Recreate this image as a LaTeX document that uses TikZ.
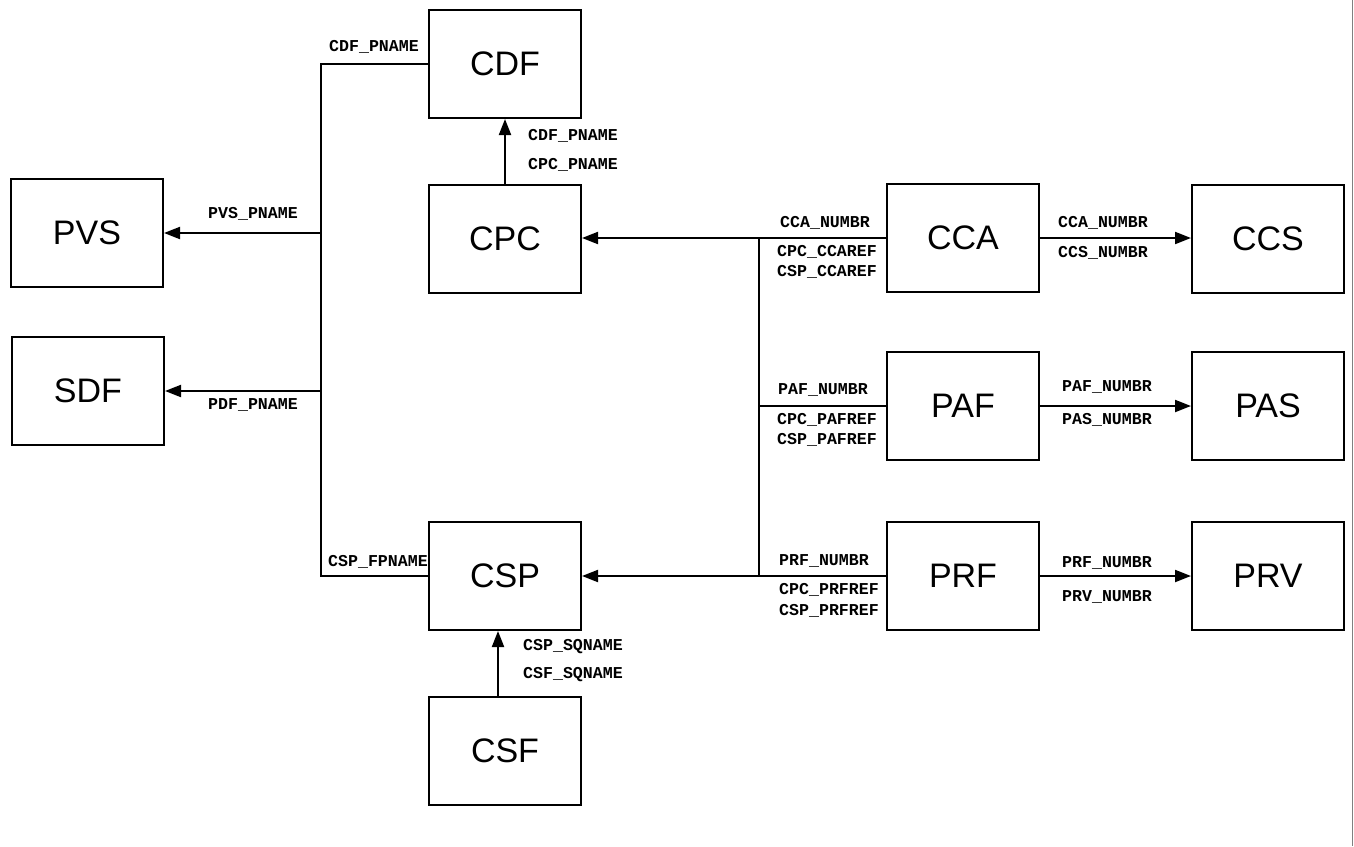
\documentclass[tikz,border=0pt]{standalone}
\usepackage{fontspec}
\setmainfont{Liberation Sans}
\newfontfamily\fieldfont{Liberation Mono}
\usetikzlibrary{arrows.meta}
\usetikzlibrary{positioning}

\begin{document}
\begin{tikzpicture}[x=0.5pt, y=-0.5pt,
    table/.style={draw, line width=1pt, minimum width=76pt, minimum height=54pt,
      inner sep=0pt, font=\fontsize{17}{20}\selectfont},
    field/.style={inner sep=0pt, font=\fieldfont\bfseries\fontsize{8.3}{9}\selectfont},
    link/.style={line width=1pt},
    ref/.style={line width=1pt, -{Triangle[length=8pt,width=6pt]}}]

  \useasboundingbox (0,0) rectangle (1354,846);

  % tables
  \node[table] (cdf) at (505,64) {CDF};
  \node[table] (cpc) at (505,239) {CPC};
  \node[table] (pvs) at (87,233) {PVS};
  \node[table] (sdf) at (88,391) {SDF};
  \node[table] (csp) at (505,576) {CSP};
  \node[table] (csf) at (505,751) {CSF};
  \node[table] (cca) at (963,238) {CCA};
  \node[table] (ccs) at (1268,239) {CCS};
  \node[table] (paf) at (963,406) {PAF};
  \node[table] (pas) at (1268,406) {PAS};
  \node[table] (prf) at (963,576) {PRF};
  \node[table] (prv) at (1268,576) {PRV};

  % left bus
  \coordinate (lbus) at (321,64);
  \draw[link] (cdf.west) -- (lbus) -- (lbus |- csp.west) -- (csp.west);
  \draw[ref] (lbus |- pvs.east) -- (pvs.east);
  \draw[ref] (lbus |- sdf.east) -- (sdf.east);
  \draw[ref] (cpc.north) -- (cdf.south);
  \draw[ref] ([xshift=-3.5pt]csf.north) -- ([xshift=-3.5pt]csp.south);

  % right bus
  \coordinate (rbus) at (759,238);
  \draw[ref] (cca.west) -- (cca.west -| cpc.east);
  \draw[link] (rbus) -- (rbus |- prf.west);
  \draw[link] (paf.west) -- (rbus |- paf.west);
  \draw[ref] (prf.west) -- (csp.east);
  \draw[ref] (cca.east) -- (cca.east -| ccs.west);
  \draw[ref] (paf.east) -- (pas.west);
  \draw[ref] (prf.east) -- (prv.west);

  % field names
  \node[field] (f1) at (374,47) {CDF\_PNAME};
  \node[field] (f2) at (253,214) {PVS\_PNAME};
  \node[field] (f3) at (253,405) {PDF\_PNAME};
  \node[field] (f4) at (378,562) {CSP\_FPNAME};
  \node[field] (f5) at (573,136) {CDF\_PNAME};
  \node[field] (f6) at (573,165) {CPC\_PNAME};
  \node[field] (f7) at (573,647) {CSP\_SQNAME};
  \node[field] (f8) at (573,675) {CSF\_SQNAME};
  \node[field] (f9) at (825,223) {CCA\_NUMBR};
  \node[field] (f10) at (827,252) {CPC\_CCAREF};
  \node[field] (f11) at (827,272) {CSP\_CCAREF};
  \node[field] (f12) at (823,390) {PAF\_NUMBR};
  \node[field] (f13) at (827,420) {CPC\_PAFREF};
  \node[field] (f14) at (827,440) {CSP\_PAFREF};
  \node[field] (f15) at (824,561) {PRF\_NUMBR};
  \node[field] (f16) at (829,590) {CPC\_PRFREF};
  \node[field] (f17) at (829,611) {CSP\_PRFREF};
  \node[field] (f18) at (1103,223) {CCA\_NUMBR};
  \node[field] (f19) at (1103,253) {CCS\_NUMBR};
  \node[field] (f20) at (1107,387) {PAF\_NUMBR};
  \node[field] (f21) at (1107,420) {PAS\_NUMBR};
  \node[field] (f22) at (1107,563) {PRF\_NUMBR};
  \node[field] (f23) at (1107,597) {PRV\_NUMBR};

  % page edge
  \draw[gray, line width=0.8pt] (1352.5,0) -- (1352.5,846);
\end{tikzpicture}
\end{document}
